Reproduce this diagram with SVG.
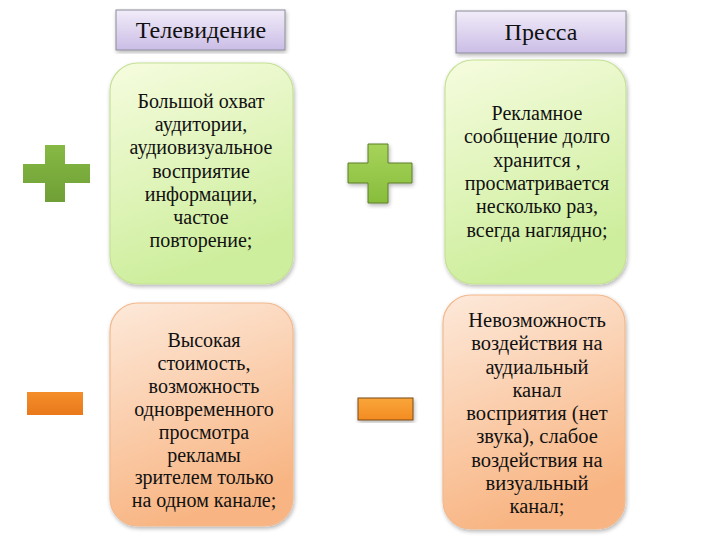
<svg xmlns="http://www.w3.org/2000/svg" width="720" height="540" viewBox="0 0 720 540">
<defs>
<linearGradient id="gTitle" x1="0" y1="0" x2="0" y2="1"><stop offset="0" stop-color="#f1ecf9"/><stop offset="1" stop-color="#cbbde6"/></linearGradient>
<linearGradient id="gGreen" x1="0" y1="0" x2="0.3" y2="1"><stop offset="0" stop-color="#f6fcdf"/><stop offset="1" stop-color="#cdee9c"/></linearGradient>
<linearGradient id="gOrange" x1="0" y1="0" x2="0.3" y2="1"><stop offset="0" stop-color="#fde9da"/><stop offset="1" stop-color="#f8b583"/></linearGradient>
<linearGradient id="gPlus1" x1="0" y1="0" x2="0" y2="1"><stop offset="0" stop-color="#86b944"/><stop offset="1" stop-color="#6f9f36"/></linearGradient>
<linearGradient id="gPlus2" x1="0" y1="0" x2="0" y2="1"><stop offset="0" stop-color="#a6d35a"/><stop offset="1" stop-color="#88bd3c"/></linearGradient>
<linearGradient id="gMinus1" x1="0" y1="0" x2="0" y2="1"><stop offset="0" stop-color="#f48e2a"/><stop offset="1" stop-color="#e9791c"/></linearGradient>
<linearGradient id="gMinus2" x1="0" y1="0" x2="0" y2="1"><stop offset="0" stop-color="#f9a63a"/><stop offset="1" stop-color="#f38c22"/></linearGradient>
<filter id="sh" x="-10%" y="-10%" width="120%" height="120%"><feGaussianBlur in="SourceAlpha" stdDeviation="2"/><feOffset dx="1" dy="2"/><feComponentTransfer><feFuncA type="linear" slope="0.3"/></feComponentTransfer><feMerge><feMergeNode/><feMergeNode in="SourceGraphic"/></feMerge></filter>
</defs>
<style>
.tbox{fill:url(#gTitle);stroke:#8c8c98;stroke-width:1}
.gbox{fill:url(#gGreen);stroke:#c6e196;stroke-width:1.2}
.obox{fill:url(#gOrange);stroke:#f3b98c;stroke-width:1.2}
</style>
<rect width="720" height="540" fill="#ffffff"/>
<g font-family="Liberation Serif, serif" fill="#111111" text-anchor="middle">
<g id="title-tv"><rect class="tbox" x="116" y="10" width="169" height="40" filter="url(#sh)"/><text font-size="24" x="201" y="38">Телевидение</text></g>
<g id="title-press"><rect class="tbox" x="456" y="11" width="170" height="42" filter="url(#sh)"/><text font-size="24" x="541" y="40">Пресса</text></g>
<g id="tv-plus-box" font-size="20"><rect class="gbox" x="110" y="63" width="183" height="221" rx="28" filter="url(#sh)"/>
<text x="201" y="108">Большой охват</text>
<text x="201" y="131">аудитории,</text>
<text x="201" y="154">аудиовизуальное</text>
<text x="201" y="178">восприятие</text>
<text x="201" y="201">информации,</text>
<text x="201" y="224">частое</text>
<text x="201" y="247">повторение;</text></g>
<g id="press-plus-box" font-size="20"><rect class="gbox" x="445" y="60" width="181" height="224" rx="28" filter="url(#sh)"/>
<text x="537" y="120">Рекламное</text>
<text x="537" y="143">сообщение долго</text>
<text x="537" y="167">хранится ,</text>
<text x="537" y="190">просматривается</text>
<text x="537" y="213">несколько раз,</text>
<text x="537" y="237">всегда наглядно;</text></g>
<g id="tv-minus-box" font-size="20"><rect class="obox" x="110" y="303" width="183" height="223" rx="28" filter="url(#sh)"/>
<text x="204" y="347">Высокая</text>
<text x="204" y="370">стоимость,</text>
<text x="204" y="393">возможность</text>
<text x="204" y="416">одновременного</text>
<text x="204" y="439">просмотра</text>
<text x="204" y="462">рекламы</text>
<text x="204" y="484">зрителем только</text>
<text x="204" y="507">на одном канале;</text></g>
<g id="press-minus-box" font-size="20.5"><rect class="obox" x="443" y="295" width="182" height="234" rx="28" filter="url(#sh)"/>
<text x="537" y="327">Невозможность</text>
<text x="537" y="350">воздействия на</text>
<text x="537" y="374">аудиальный</text>
<text x="537" y="397">канал</text>
<text x="537" y="420">восприятия (нет</text>
<text x="537" y="443">звука), слабое</text>
<text x="537" y="467">воздействия на</text>
<text x="537" y="490">визуальный</text>
<text x="537" y="513">канал;</text></g>
</g>
<g id="tv-plus"><path d="M45 145H65V164H90V183H65V202H45V183H23V164H45Z" fill="url(#gPlus1)"/></g>
<g id="press-plus"><path d="M368 144H388V163H412V183H388V203H368V183H348V163H368Z" fill="url(#gPlus2)" stroke="#5e7f2a" stroke-width="1" filter="url(#sh)"/></g>
<g id="tv-minus"><rect x="27" y="392" width="56" height="23" fill="url(#gMinus1)"/></g>
<g id="press-minus"><rect x="358" y="398" width="55" height="22" fill="url(#gMinus2)" stroke="#7a4a1a" stroke-width="1" filter="url(#sh)"/></g>
<g id="connectors"></g>
</svg>
